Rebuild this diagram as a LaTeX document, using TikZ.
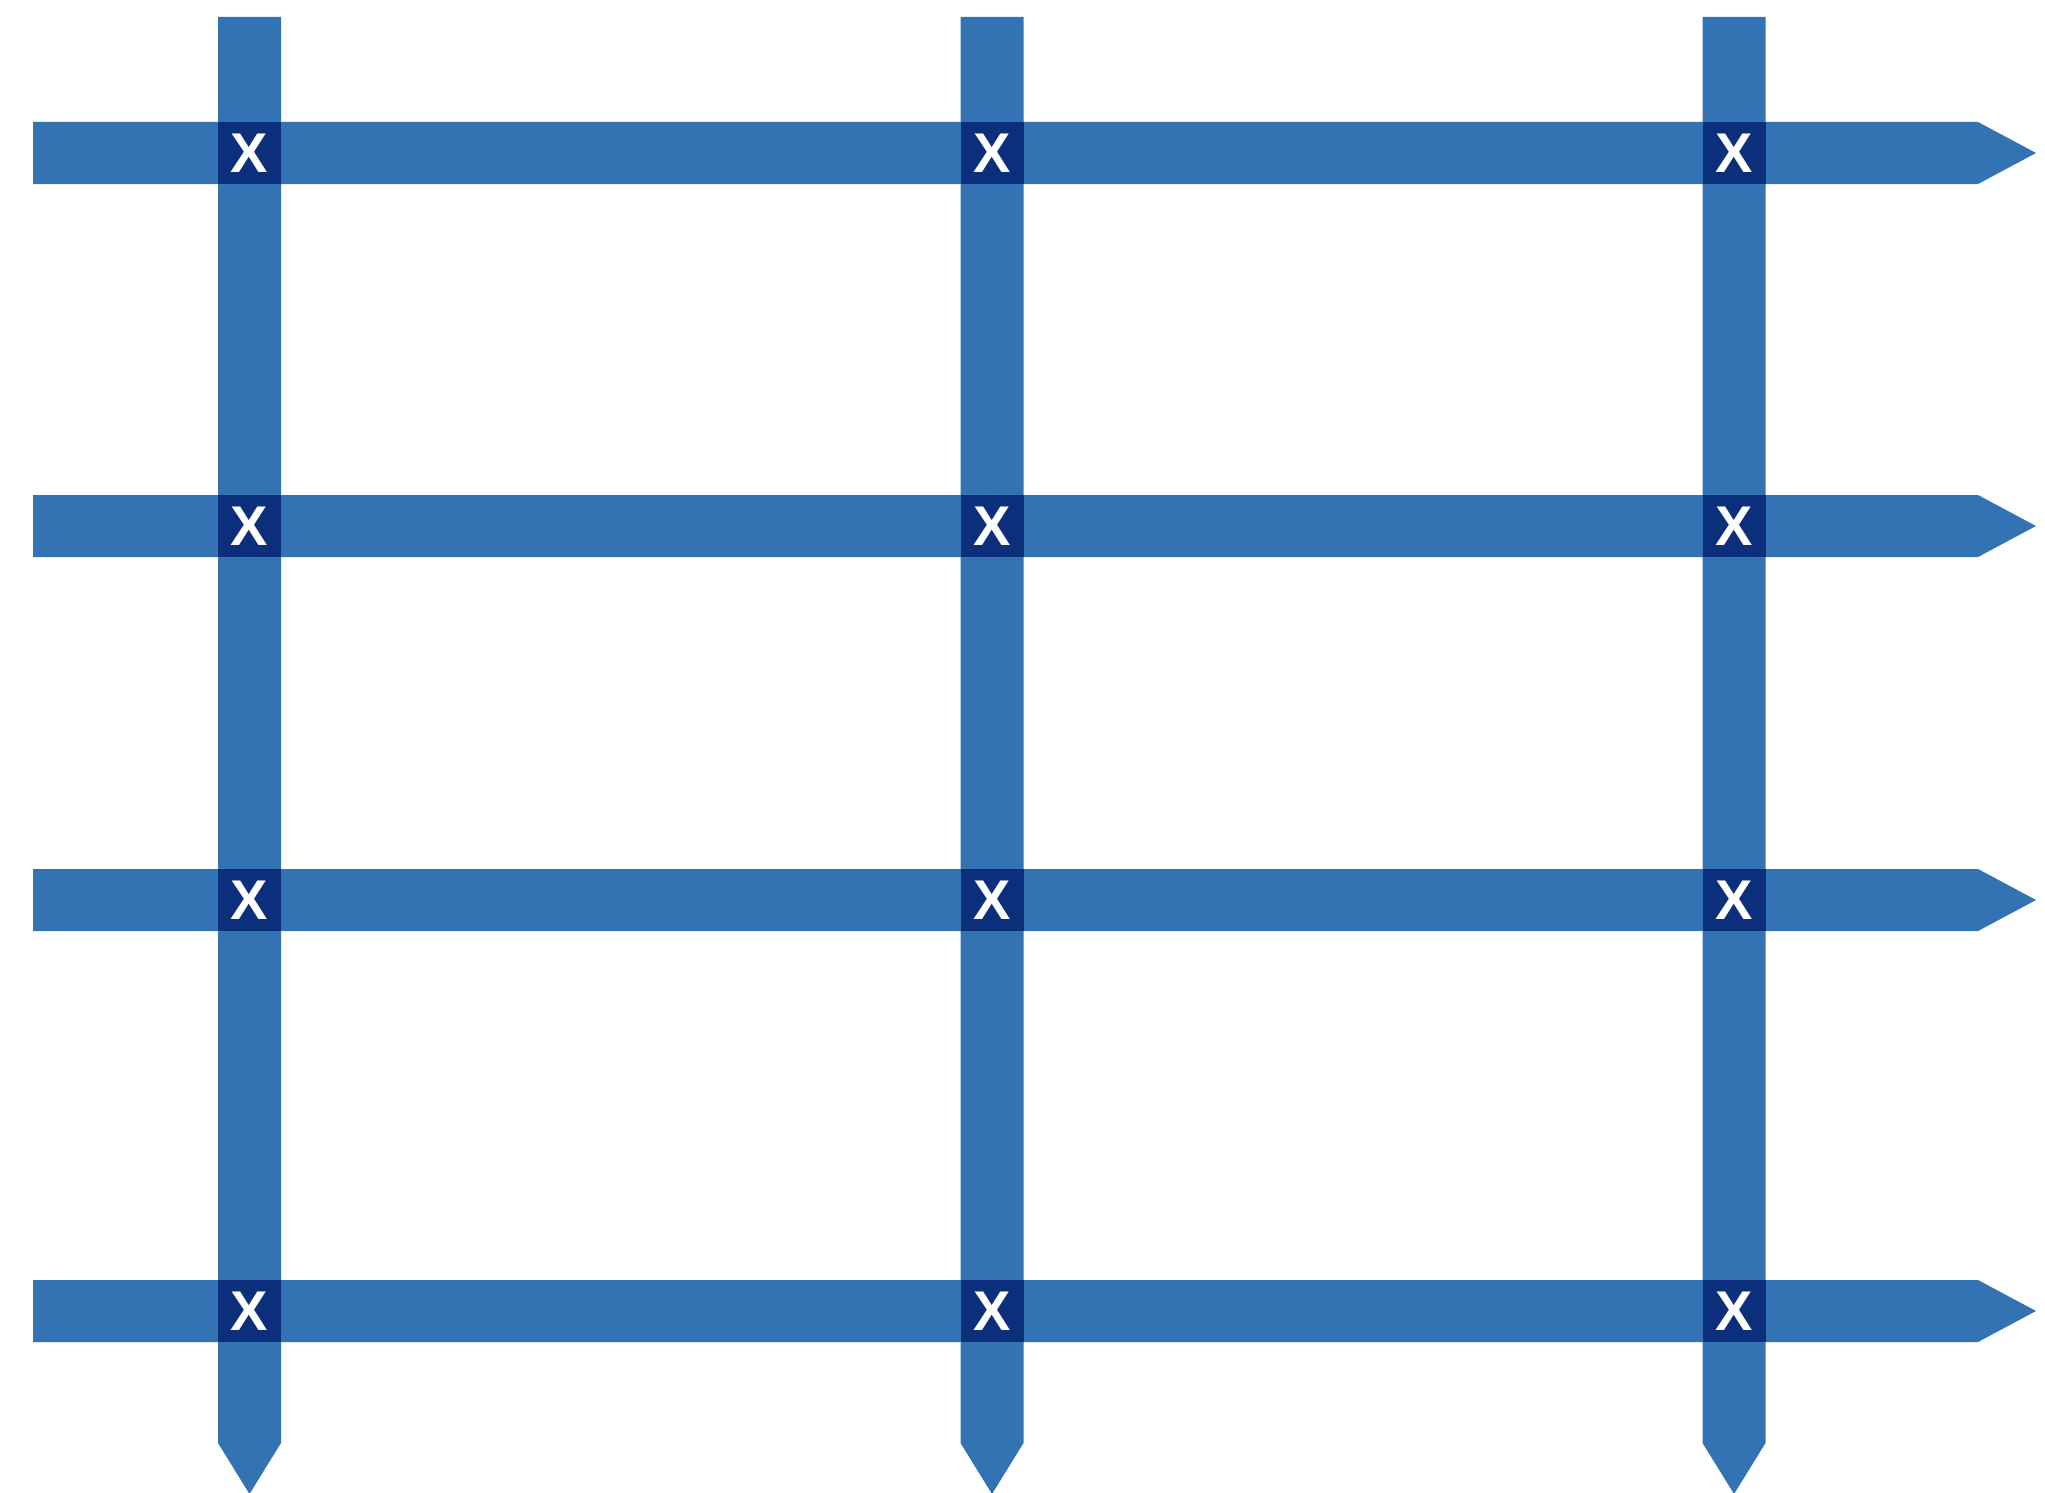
\documentclass[tikz,border=0pt]{standalone}
\usepackage{fontspec}
\setmainfont{Liberation Sans}
\definecolor{barblue}{HTML}{3373B3}
\definecolor{crossblue}{HTML}{0B2F7A}
\begin{document}
\begin{tikzpicture}[x=1pt,y=-1pt,
  bar/.style={fill=barblue,draw=none},
  cross/.style={fill=crossblue,draw=none,minimum width=63pt,minimum height=62pt,inner sep=0pt,
    text=white,font=\fontsize{56}{56}\selectfont\bfseries}]
\useasboundingbox (0,0) rectangle (2045,1493);
% horizontal arrows
\foreach \y in {153,526,900,1311}{
  \fill[bar] (33,\y-31) -- (1978,\y-31) -- (2036,\y) -- (1978,\y+31) -- (33,\y+31) -- cycle;
}
% vertical arrows
\foreach \x in {249.5,992,1734}{
  \fill[bar] (\x-31.5,17) -- (\x+31.5,17) -- (\x+31.5,1443) -- (\x,1494) -- (\x-31.5,1443) -- cycle;
}
% crossings
\foreach \x/\c in {249.5/a,992/b,1734/c}{
  \foreach \y/\r in {153/1,526/2,900/3,1311/4}{
    \node[cross] (x\c\r) at (\x,\y) {X};
  }
}
\end{tikzpicture}
\end{document}
